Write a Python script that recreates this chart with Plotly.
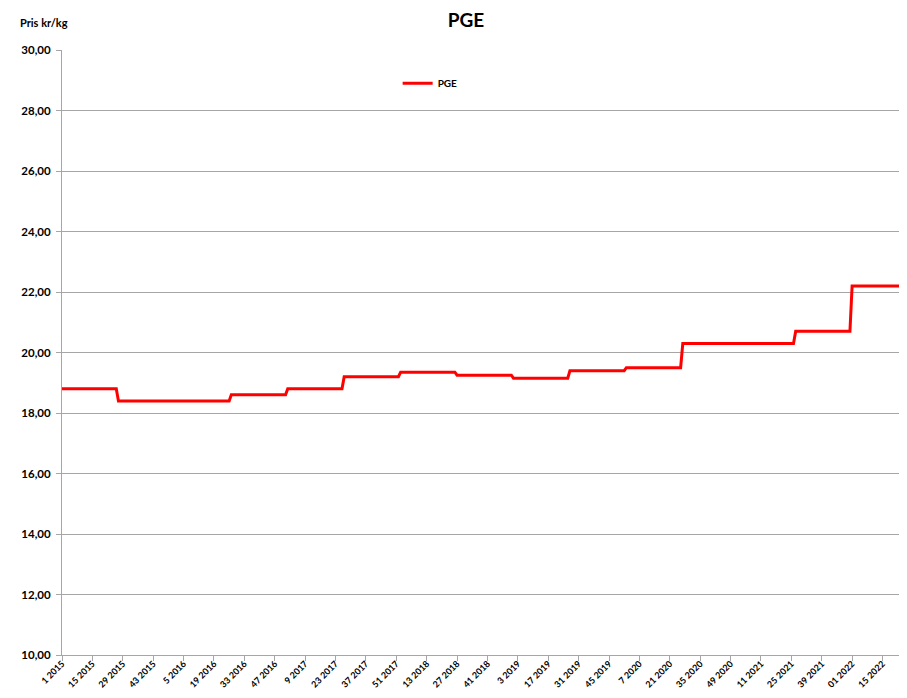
import plotly.graph_objects as go

# ---- data ----
years = [2015, 2016, 2017, 2018, 2019, 2020, 2021, 2022]
weeks_per_year = [52, 52, 52, 52, 52, 52, 52, 30]

# price change points (week label where a new price starts) and the price
change_weeks = ["1 2015", "27 2015", "27 2016", "1 2017", "27 2017", "1 2018",
                "27 2018", "1 2019", "27 2019", "1 2020", "27 2020", "27 2021",
                "01 2022", "27 2022"]
change_prices = [18.80, 18.40, 18.60, 18.80, 19.20, 19.35,
                 19.25, 19.15, 19.40, 19.50, 20.30, 20.70,
                 22.20, 23.00]

# ---- build weekly categories ----
categories = []
for y, n in zip(years, weeks_per_year):
    for w in range(1, n + 1):
        lab = f"{w:02d} {y}" if y == 2022 and w < 10 else f"{w} {y}"
        categories.append(lab)

prices = []
cur = None
cp = dict(zip(change_weeks, change_prices))
for c in categories:
    if c in cp:
        cur = cp[c]
    prices.append(cur)

FONT = "Lato"
W, H = 891, 682   # page body adds 8px margin on every side

fig = go.Figure()
fig.add_trace(go.Scatter(
    x=categories, y=prices, mode="lines", name="<b>PGE</b>",
    line=dict(color="#ff0000", width=3),
))

fig.update_layout(
    width=W, height=H,
    margin=dict(l=54, r=0, t=42, b=35),
    paper_bgcolor="white", plot_bgcolor="white",
    separators=",.",
    font=dict(family=FONT, color="#000000"),
    title=dict(text="<b>PGE</b>", x=458 / W, xref="container",
               xanchor="center", y=1 - 12 / H, yanchor="middle",
               font=dict(size=19, family=FONT, color="#000000")),
    showlegend=True,
    legend=dict(x=0.401, y=0.945, xanchor="left", yanchor="middle",
                bgcolor="rgba(0,0,0,0)", font=dict(size=10, family=FONT),
                itemwidth=30, tracegroupgap=0),
)

fig.update_xaxes(
    type="category", range=[0, 385.6], autorange=False,
    tickangle=-45, tickfont=dict(size=9, family=FONT, color="#000000"),
    ticklabelstandoff=-6,
    showline=True, linecolor="#a6a6a6", linewidth=1,
    ticks="outside", ticklen=5, tickcolor="#a6a6a6",
    showgrid=False, zeroline=False, automargin=False,
)
fig.update_yaxes(
    range=[10, 30], autorange=False,
    tickfont=dict(size=11.5, family=FONT, color="#000000"),
    showline=True, linecolor="#a6a6a6", linewidth=1,
    ticks="outside", ticklen=5, tickcolor="#a6a6a6",
    ticklabelstandoff=3,
    showgrid=True, gridcolor="#a6a6a6", gridwidth=1, zeroline=False,
    automargin=False,
)

yvals = [10 + 2 * i for i in range(11)]
fig.update_yaxes(tickmode="array", tickvals=yvals,
                 ticktext=[f"<b>{v:.2f}</b>".replace(".", ",") for v in yvals])
xticks = categories[::14]
fig.update_xaxes(tickmode="array", tickvals=xticks,
                 ticktext=[f"<b>{t}</b>" for t in xticks])

fig.add_annotation(text="<b>Pris kr/kg</b>", xref="paper", yref="paper",
                   x=-0.052, y=1.046, xanchor="left", yanchor="middle",
                   showarrow=False, font=dict(size=11, family=FONT, color="#000000"))

fig.write_html("out.html")
